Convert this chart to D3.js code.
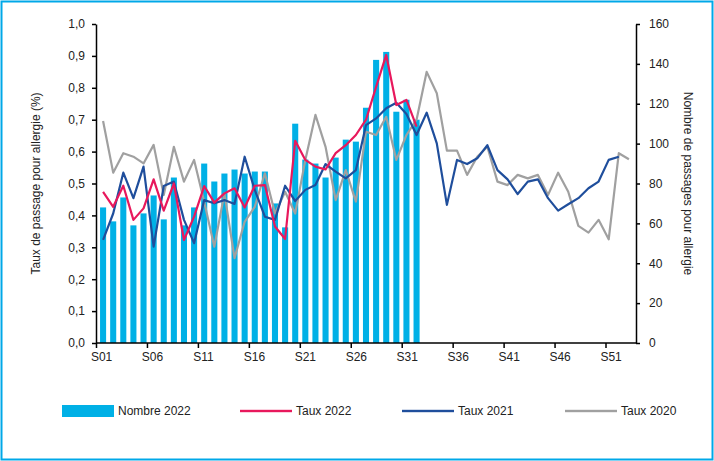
<!DOCTYPE html>
<html>
<head>
<meta charset="utf-8">
<script src="https://cdn.jsdelivr.net/npm/d3@7"></script>
<style>
  body { margin: 0; background: #fff; }
  svg { font-family: "Liberation Sans Narrow", "Liberation Sans", Arial, sans-serif; }
</style>
</head>
<body>
<div id="chart"></div>
<script>
// Data
var weeks = d3.range(1, 54).map(function (i) { return "S" + (i < 10 ? "0" + i : i); });
var nombre2022 = [68, 61, 73, 59, 65, 74, 62, 83, 59, 68, 90, 81, 85, 87, 85, 86, 86, 70, 58, 110,
  92, 90, 83, 93, 102, 101, 118, 142, 146, 116, 122, 112];
var taux2022 = [0.474, 0.427, 0.493, 0.386, 0.422, 0.513, 0.415, 0.50, 0.323, 0.396, 0.492, 0.44,
  0.469, 0.485, 0.425, 0.493, 0.495, 0.365, 0.326, 0.634, 0.574, 0.553, 0.544, 0.595, 0.62, 0.652,
  0.70, 0.803, 0.903, 0.746, 0.762, 0.678];
var taux2021 = [0.323, 0.406, 0.534, 0.454, 0.553, 0.302, 0.492, 0.506, 0.386, 0.313, 0.448, 0.438,
  0.448, 0.436, 0.584, 0.48, 0.396, 0.386, 0.493, 0.445, 0.48, 0.495, 0.561, 0.537, 0.516, 0.542,
  0.683, 0.704, 0.736, 0.753, 0.718, 0.652, 0.722, 0.626, 0.433, 0.574, 0.561, 0.579, 0.62, 0.542,
  0.513, 0.467, 0.506, 0.513, 0.454, 0.415, 0.435, 0.454, 0.485, 0.506, 0.574, 0.584];
var taux2020 = [0.696, 0.534, 0.595, 0.584, 0.563, 0.621, 0.464, 0.615, 0.506, 0.574, 0.443, 0.302,
  0.469, 0.266, 0.38, 0.427, 0.532, 0.406, 0.474, 0.406, 0.574, 0.715, 0.615, 0.448, 0.542, 0.443,
  0.662, 0.652, 0.709, 0.574, 0.652, 0.70, 0.85, 0.783, 0.603, 0.603, 0.527, 0.584, 0.615, 0.506,
  0.495, 0.527, 0.516, 0.527, 0.464, 0.534, 0.474, 0.367, 0.346, 0.386, 0.325, 0.595, 0.576];
var leftTicks = d3.range(0, 11).map(function (i) { return i / 10; });
var rightTicks = d3.range(0, 161, 20);

const W = 714, H = 461;
const L = 96, R = 636, T = 24, B = 343;

var svg = d3.select("#chart").append("svg").attr("width", W).attr("height", H);

// Frame
svg.append("rect").attr("x", 1.5).attr("y", 1.5).attr("width", W - 3).attr("height", H - 3)
  .attr("fill", "none").attr("stroke", "#00a8e8").attr("stroke-width", 2);

var x = d3.scaleBand().domain(weeks).range([L, R]).padding(0.4);
var yL = d3.scaleLinear().domain([0, 1]).range([B, T]);
var yR = d3.scaleLinear().domain([0, 160]).range([B, T]);
var cx = function (i) { return x(weeks[i]) + x.bandwidth() / 2; };

// Bars
svg.append("g").selectAll("rect").data(nombre2022).enter().append("rect")
  .attr("x", function (d, i) { return x(weeks[i]); })
  .attr("y", function (d) { return yR(d); })
  .attr("width", x.bandwidth())
  .attr("height", function (d) { return B - yR(d); })
  .attr("fill", "#00b0e6");

// Lines
function drawLine(data, color) {
  var line = d3.line().x(function (d, i) { return cx(i); }).y(function (d) { return yL(d); });
  svg.append("path").datum(data).attr("d", line).attr("fill", "none")
    .attr("stroke", color).attr("stroke-width", 2.2).attr("stroke-linejoin", "round");
}
drawLine(taux2020, "#a0a0a0");
drawLine(taux2021, "#1f4e9c");
drawLine(taux2022, "#e8185c");

// Axes
var fmt = function (d) { return d3.format(".1f")(d).replace(".", ","); };
var gl = svg.append("g").attr("transform", "translate(" + L + ",0)")
  .call(d3.axisLeft(yL).tickValues(leftTicks).tickFormat(fmt).tickSize(4).tickSizeOuter(0));
var gr = svg.append("g").attr("transform", "translate(" + R + ",0)")
  .call(d3.axisRight(yR).tickValues(rightTicks).tickSize(4).tickSizeOuter(0));
var xt = d3.scalePoint().domain(weeks).range([L + x.step() / 2, R - x.step() / 2]);
var gx = svg.append("g").attr("transform", "translate(0," + B + ")")
  .call(d3.axisBottom(xt).tickValues(weeks.filter(function (d, i) { return i % 5 === 0; }))
    .tickSize(0).tickPadding(9).tickSizeOuter(0));
gx.select(".domain").attr("d", "M" + L + ",0H" + R);
gx.selectAll(".tick").append("line")
  .attr("x1", -x.step() / 2).attr("x2", -x.step() / 2).attr("y2", 5).attr("stroke", "#000");
[gl, gr, gx].forEach(function (g) {
  g.selectAll("text").attr("font-size", 12).attr("fill", "#222")
    .attr("font-family", "'Liberation Sans Narrow', 'Liberation Sans', Arial");
  g.selectAll(".domain").attr("stroke", "#000").attr("stroke-width", 1.5);
  g.selectAll("line").attr("stroke", "#000").attr("stroke-width", 1.5);
});
gr.selectAll("text").attr("dx", 6);
gl.selectAll("text").attr("dx", -4);

// Axis titles
svg.append("text").attr("transform", "translate(40," + (T + B) / 2 + ") rotate(-90)")
  .attr("text-anchor", "middle").attr("font-size", 12).attr("fill", "#222")
  .text("Taux de passage pour allergie (%)");
svg.append("text").attr("transform", "translate(684," + (T + B) / 2 + ") rotate(90)")
  .attr("text-anchor", "middle").attr("font-size", 12).attr("fill", "#222")
  .text("Nombre de passages pour allergie");

// Legend
var legend = [
  { name: "Nombre 2022", color: "#00b0e6", bar: true, x: 62 },
  { name: "Taux 2022", color: "#e8185c", x: 240 },
  { name: "Taux 2021", color: "#1f4e9c", x: 402 },
  { name: "Taux 2020", color: "#a0a0a0", x: 565 }
];
var lg = svg.append("g").selectAll("g").data(legend).enter().append("g")
  .attr("transform", function (d) { return "translate(" + d.x + ",411)"; });
lg.append("rect").attr("x", 0).attr("y", function (d) { return d.bar ? -6 : -1.2; })
  .attr("width", function (d) { return d.bar ? 52 : 52; })
  .attr("height", function (d) { return d.bar ? 12 : 2.4; })
  .attr("fill", function (d) { return d.color; });
lg.append("text").attr("x", 56).attr("dy", "0.35em").attr("font-size", 12).attr("fill", "#222")
  .text(function (d) { return d.name; });
</script>
</body>
</html>
